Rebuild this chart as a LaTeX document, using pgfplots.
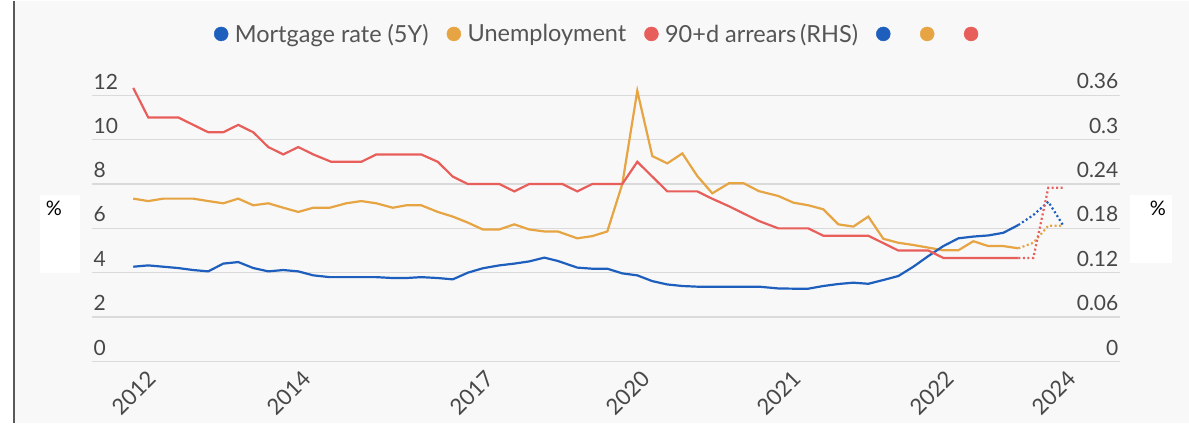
\documentclass[border=0pt]{standalone}
\usepackage{fontspec}
\setmainfont{Lato}
\usepackage{pgfplots}
\pgfplotsset{compat=1.18}
\definecolor{cblue}{HTML}{1E5FBE}
\definecolor{corange}{HTML}{E6A443}
\definecolor{cred}{HTML}{E85E5A}
\definecolor{bgc}{HTML}{F8F8F8}
\definecolor{gridc}{HTML}{DADADA}
\definecolor{labc}{HTML}{474747}
\definecolor{legc}{HTML}{555555}
\begin{document}
\begin{tikzpicture}[x=1bp,y=1bp]
\fill[white] (0,0) rectangle (1189,422);
\fill[bgc] (15,0) rectangle (1189,422);
\draw[black!65, line width=2bp] (14,0) -- (14,422);
\fill[white] (40,150) rectangle (80,228);
\fill[white] (1130,160) rectangle (1172,228);
\node[anchor=center, font=\fontsize{20bp}{22bp}\selectfont] at (54,215) {\%};
\node[anchor=center, font=\fontsize{20bp}{22bp}\selectfont] at (1158,215) {\%};
\begin{axis}[
  at={(92bp,61.6bp)}, anchor=south west,
  scale only axis, width=1028bp, height=279.4bp,
  xmin=-2.75, xmax=65.78, ymin=0, ymax=12.6,
  axis line style={draw=none}, tick style={draw=none},
  ymajorgrids, grid style={gridc, line width=1.2bp},
  ytick={0,2,4,6,8,10,12}, yticklabels={0,2,4,6,8,10,12},
  yticklabel style={anchor=south west, inner sep=1.5bp, yshift=4.5bp, text=labc, font=\fontsize{21bp}{24bp}\selectfont},
  xtick={0.5,10.8,23.0,33.4,43.5,53.7,61.8},
  xticklabels={2012,2014,2017,2020,2021,2022,2024},
  xticklabel style={rotate=45, anchor=north east, inner sep=1bp, yshift=-8bp, text=labc, font=\fontsize{22bp}{24bp}\selectfont},
  /pgf/number format/assume math mode=true,
  clip=false,
  legend columns=-1,
  legend style={draw=none, fill=none, at={(0.4945,1.172)}, anchor=center,
    font=\fontsize{23.5bp}{26bp}\selectfont, text=legc,
    /tikz/every odd column/.append style={column sep=4.5bp},
    /tikz/every even column/.append style={column sep=16bp}},
  legend image code/.code={\fill[#1] (0bp,0bp) circle (7bp);},
]
\addlegendimage{cblue}\addlegendentry{Mortgage rate (5Y)}
\addlegendimage{corange}\addlegendentry{Unemployment}
\addlegendimage{cred}\addlegendentry{90+d arrears\,(RHS)}
\addlegendimage{cblue}\addlegendentry{\hspace*{5bp}}
\addlegendimage{corange}\addlegendentry{\hspace*{5bp}}
\addlegendimage{cred}\addlegendentry{}
% Unemployment
\addplot[forget plot, corange, line width=2.2bp] coordinates {
(0,7.34)(1,7.23)(2,7.34)(3,7.34)(4,7.34)(5,7.23)(6,7.13)(7,7.34)(8,7.04)(9,7.13)(10,6.93)(11,6.74)(12,6.93)(13.1,6.93)(14.2,7.13)(15.2,7.23)(16.2,7.13)(17.3,6.93)(18.2,7.04)(19.2,7.04)(20.3,6.74)(21.3,6.53)(22.3,6.26)(23.3,5.95)(24.4,5.95)(25.4,6.18)(26.4,5.95)(27.4,5.86)(28.3,5.86)(29.6,5.55)(30.6,5.65)(31.6,5.86)(32.6,8.0)(33.6,12.2)(34.6,9.26)(35.6,8.93)(36.6,9.38)(37.6,8.36)(38.6,7.58)(39.7,8.03)(40.7,8.03)(41.7,7.68)(43,7.46)(44,7.16)(45,7.04)(46,6.86)(47,6.18)(48,6.08)(49,6.53)(50,5.53)(51,5.35)(52,5.25)(53,5.13)(54,5.01)(55,5.01)(56,5.42)(57,5.2)(58,5.2)(59,5.1)};
\addplot[forget plot, corange, line width=2.2bp, dash pattern=on 2bp off 2.5bp] coordinates {(59,5.1)(60,5.35)(61,6.12)(62,6.12)};
% Mortgage rate
\addplot[forget plot, cblue, line width=2.2bp] coordinates {
(0,4.27)(1,4.33)(2,4.27)(3,4.21)(4,4.12)(5,4.06)(6,4.41)(7,4.48)(8,4.21)(9,4.06)(10,4.12)(11,4.06)(12,3.88)(13.1,3.80)(14.2,3.80)(15.2,3.80)(16.2,3.80)(17.3,3.76)(18.2,3.76)(19.2,3.80)(20.3,3.76)(21.3,3.70)(22.3,4.00)(23.3,4.20)(24.4,4.33)(25.4,4.41)(26.4,4.51)(27.4,4.68)(28.3,4.53)(29.6,4.23)(30.6,4.18)(31.6,4.18)(32.6,3.97)(33.6,3.88)(34.6,3.62)(35.6,3.47)(36.6,3.40)(37.6,3.37)(38.6,3.37)(39.7,3.37)(40.7,3.37)(41.7,3.37)(43,3.29)(44,3.28)(45,3.28)(46,3.40)(47,3.49)(48,3.55)(49,3.50)(50,3.67)(51,3.85)(52,4.27)(53,4.75)(54,5.20)(55,5.55)(56,5.63)(57,5.68)(58,5.80)(59,6.15)};
\addplot[forget plot, cblue, line width=2.2bp, dash pattern=on 2bp off 2.5bp] coordinates {(59,6.15)(60,6.6)(61,7.2)(62,6.12)};
\end{axis}
\begin{axis}[
  at={(92bp,61.6bp)}, anchor=south west,
  scale only axis, width=1028bp, height=279.4bp,
  xmin=-2.75, xmax=65.78, ymin=0, ymax=0.378,
  axis line style={draw=none}, tick style={draw=none},
  axis y line*=right, axis x line=none,
  ytick={0,0.06,0.12,0.18,0.24,0.3,0.36}, yticklabels={0,0.06,0.12,0.18,0.24,0.3,0.36},
  yticklabel style={anchor=south east, inner sep=1.5bp, yshift=4.5bp, text=labc, font=\fontsize{21bp}{24bp}\selectfont},
  /pgf/number format/assume math mode=true,
  clip=false,
]
\addplot[cred, line width=2.2bp] coordinates {
(0,0.37)(1,0.33)(3,0.33)(5,0.31)(6,0.31)(7,0.32)(8,0.31)(9,0.29)(10,0.28)(11,0.29)(12,0.28)(13.2,0.27)(15.2,0.27)(16.2,0.28)(19.2,0.28)(20.3,0.27)(21.3,0.25)(22.3,0.24)(24.4,0.24)(25.4,0.23)(26.4,0.24)(28.6,0.24)(29.6,0.23)(30.6,0.24)(32.6,0.24)(33.6,0.27)(34.6,0.25)(35.6,0.23)(37.6,0.23)(38.6,0.22)(39.7,0.21)(40.7,0.20)(41.7,0.19)(43,0.18)(45,0.18)(46,0.17)(49,0.17)(50,0.16)(51,0.15)(53,0.15)(54,0.14)(59,0.14)};
\addplot[cred, line width=2.2bp, dash pattern=on 2bp off 2.5bp] coordinates {(59,0.14)(60,0.14)(61,0.235)(62,0.235)};
\end{axis}
\end{tikzpicture}
\end{document}
